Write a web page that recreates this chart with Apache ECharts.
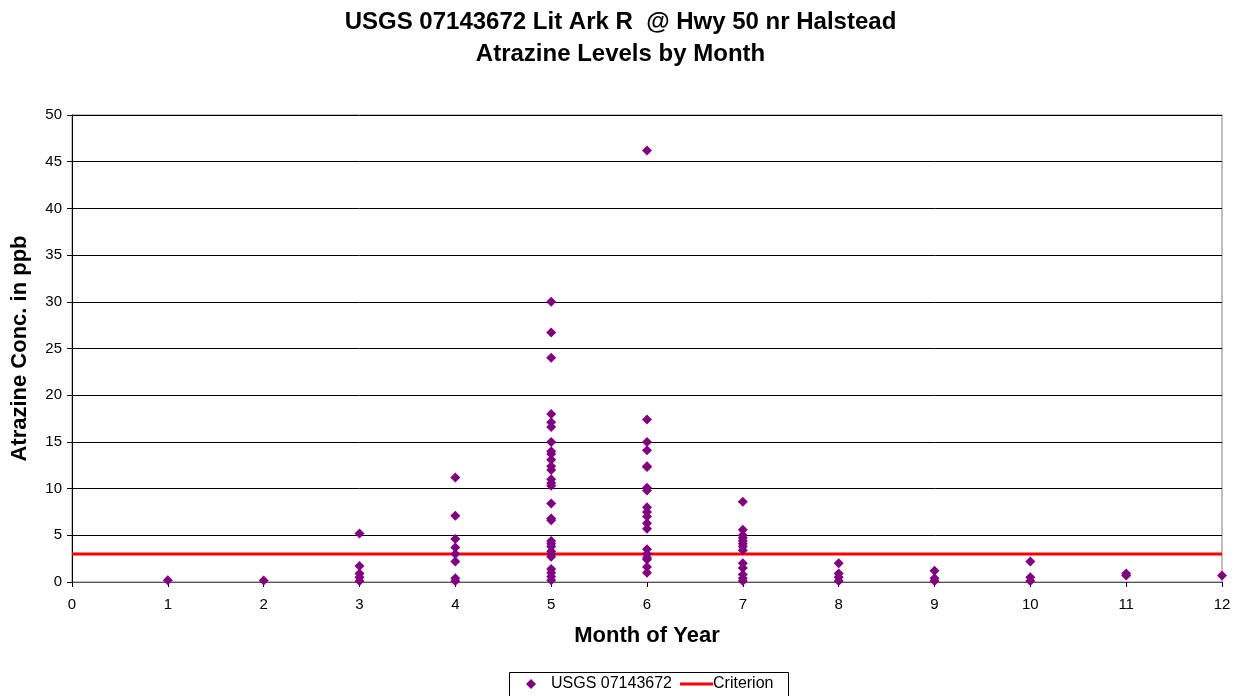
<!DOCTYPE html>
<html><head><meta charset="utf-8">
<script src="https://cdn.jsdelivr.net/npm/echarts@6/dist/echarts.min.js"></script>
<style>html,body{margin:0;padding:0;background:#fff}#c{width:1241px;height:696px}</style>
</head><body><div id="c"></div>
<script>
var titleLines = ["USGS 07143672 Lit Ark R  @ Hwy 50 nr Halstead", "Atrazine Levels by Month"];
var seriesNames = ["USGS 07143672", "Criterion"];
var months = [1,2,3,4,5,6,7,8,9,10,11,12];
var valuesByMonth = [
  [0.2],
  [0.15],
  [5.2, 1.7, 0.9, 0.5, 0.1],
  [11.2, 7.1, 4.6, 3.7, 3.0, 2.2, 0.4, 0.1],
  [30.0, 26.7, 24.0, 18.0, 17.1, 16.6, 15.0, 14.0, 13.7, 13.1, 12.4, 12.0, 11.0, 10.6, 10.3, 8.4, 6.8, 6.6, 4.4, 4.1, 3.8, 3.3, 3.0, 2.7, 1.4, 1.0, 0.6, 0.2],
  [46.2, 17.4, 15.0, 14.1, 12.4, 12.3, 10.1, 9.8, 8.0, 7.5, 7.0, 6.3, 5.7, 3.5, 3.0, 2.6, 2.4, 1.6, 1.0],
  [8.6, 5.6, 5.0, 4.7, 4.4, 4.1, 3.8, 3.4, 2.0, 1.5, 0.8, 0.4, 0.1],
  [2.0, 0.9, 0.5, 0.1],
  [1.2, 0.4, 0.1],
  [2.2, 0.5, 0.1],
  [0.9, 0.7],
  [0.7]
];
var criterionValue = 3;
var xRange = [0, 12];
var yRange = [0, 50];

var scatterData = [];
months.forEach(function(m, i){ valuesByMonth[i].forEach(function(v){ scatterData.push([m, v]); }); });
var criterionData = [[xRange[0], criterionValue], [xRange[1], criterionValue]];

var chart = echarts.init(document.getElementById('c'));
var font = 'Liberation Sans, Arial, sans-serif';
var purple = '#800080';
chart.setOption({
  backgroundColor: '#fff',
  animation: false,
  title: {
    text: titleLines.join('\n'),
    left: 'center', top: 1,
    textStyle: {fontFamily: font, fontSize: 24, fontWeight: 'bold', color: '#000', lineHeight: 32}
  },
  grid: {left: 72, right: 19, top: 115, bottom: 114, show: true, borderColor: '#808080', borderWidth: 1},
  xAxis: {
    type: 'value', min: xRange[0], max: xRange[1], interval: 1,
    name: 'Month of Year', nameLocation: 'middle', nameGap: 43,
    nameTextStyle: {fontFamily: font, fontSize: 22, fontWeight: 'bold', color: '#000'},
    axisLine: {lineStyle: {color: '#555', width: 1}},
    axisTick: {show: true, length: 5, lineStyle: {color: '#000'}},
    axisLabel: {fontFamily: font, fontSize: 15, color: '#000', margin: 15},
    splitLine: {show: false}
  },
  yAxis: {
    type: 'value', min: yRange[0], max: yRange[1], interval: 5,
    name: 'Atrazine Conc. in ppb', nameLocation: 'middle', nameGap: 41,
    nameTextStyle: {fontFamily: font, fontSize: 22, fontWeight: 'bold', color: '#000'},
    axisLine: {show: true, lineStyle: {color: '#000', width: 1}},
    axisTick: {show: true, length: 5, lineStyle: {color: '#000'}},
    axisLabel: {fontFamily: font, fontSize: 15, color: '#000', margin: 10},
    splitLine: {show: true, lineStyle: {color: '#000', width: 1}}
  },
  legend: [
    {
      left: 526, top: 676, padding: 0,
      itemWidth: 30, itemHeight: 10, itemGap: 0,
      textStyle: {fontFamily: font, fontSize: 16, color: '#000'},
      data: [{name: seriesNames[0], icon: 'path://M5,0 L10,5 L5,10 L0,5 Z', itemStyle: {color: purple}}]
    },
    {
      left: 680, top: 676, padding: 0,
      itemWidth: 33, itemHeight: 3, itemGap: 0,
      textStyle: {fontFamily: font, fontSize: 16, color: '#000', padding: [0, 0, 0, -5]},
      data: [{name: seriesNames[1], icon: 'rect', itemStyle: {color: '#ff0000'}}]
    }
  ],
  graphic: [{
    type: 'rect', left: 507, top: 670, silent: true,
    shape: {width: 279, height: 24},
    style: {fill: 'none', stroke: '#000', lineWidth: 1}
  }],
  series: [
    {
      name: seriesNames[0], type: 'scatter', data: scatterData,
      symbol: 'diamond', symbolSize: 10,
      itemStyle: {color: purple, opacity: 1}, z: 3
    },
    {
      name: seriesNames[1], type: 'line', data: criterionData,
      symbol: 'none', lineStyle: {color: '#ff0000', width: 3},
      itemStyle: {color: '#ff0000'}, z: 2
    }
  ]
});
</script></body></html>
